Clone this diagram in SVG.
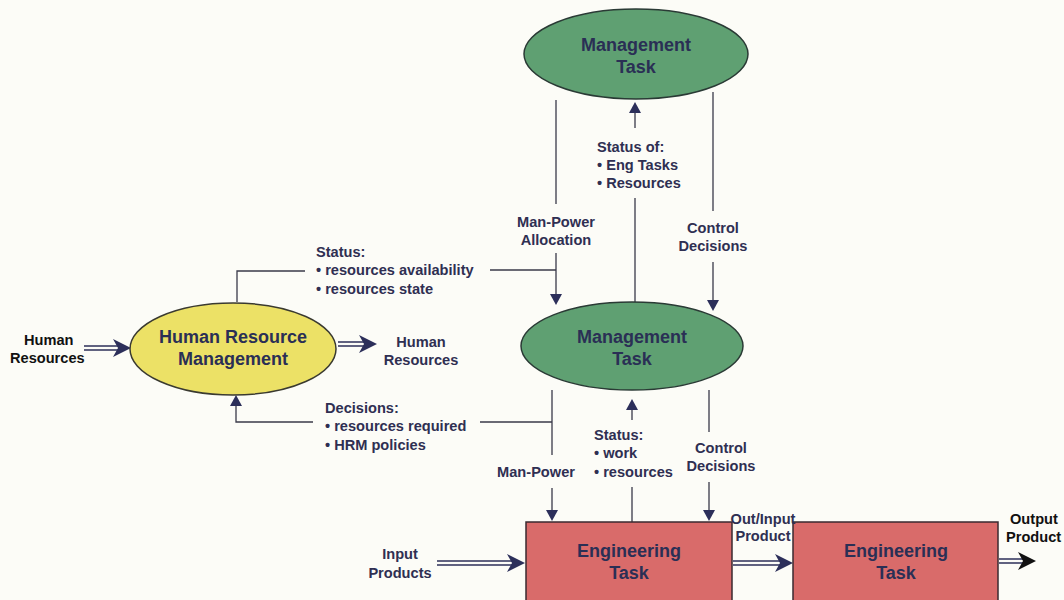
<svg xmlns="http://www.w3.org/2000/svg" width="1064" height="600" viewBox="0 0 1064 600">
  <style>
    .lbl { font-family: "Liberation Sans", Arial, sans-serif; font-weight: bold; font-size: 14.6px; fill: #2f2f52; }
    .blk { fill: #111; }
    .node-t { font-family: "Liberation Sans", Arial, sans-serif; font-weight: bold; font-size: 18px; fill: #2a2f55; text-anchor: middle; }
    .wire { stroke: #3a3a4a; stroke-width: 1.3; fill: none; }
    .dbl { stroke: #2c2f5a; stroke-width: 1.5; fill: none; }
    .green { fill: #5fa072; stroke: #2a3a35; stroke-width: 1.5; }
    .yellow { fill: #ece166; stroke: #3a3a30; stroke-width: 1.5; }
    .red { fill: #d96b6a; stroke: #3a2a30; stroke-width: 1.5; }
    .mid { text-anchor: middle; }
  </style>
  <rect width="1064" height="600" fill="#fcfcf7"/>

  <!-- connectors -->
  <g id="connectors">
    <!-- upper band: between top and middle management tasks -->
    <path class="wire" d="M556,100 V204 M556,253 V302"/>
    <path d="M550,294 L562,294 L556,305 Z" fill="#2c2f5a"/>
    <path class="wire" d="M635,198 V302 M635,112 V128"/>
    <path d="M629,113 L641,113 L635,102 Z" fill="#2c2f5a"/>
    <path class="wire" d="M713,92 V211 M713,262 V302"/>
    <path d="M707,300 L719,300 L713,311 Z" fill="#2c2f5a"/>
    <!-- HRM status feed -->
    <path class="wire" d="M237,302 V271 H305 M490,270 H556"/>
    <!-- lower band: middle task to engineering task -->
    <path class="wire" d="M552,390 V455 M552,488 V512"/>
    <path d="M546,510 L558,510 L552,521 Z" fill="#2c2f5a"/>
    <path class="wire" d="M632,487 V522 M632,409 V420"/>
    <path d="M626,410 L638,410 L632,399 Z" fill="#2c2f5a"/>
    <path class="wire" d="M709,390 V432 M709,482 V512"/>
    <path d="M703,510 L715,510 L709,521 Z" fill="#2c2f5a"/>
    <!-- HRM decisions feed -->
    <path class="wire" d="M480,422 H552 M313,422 H236 V404"/>
    <path d="M230,406 L242,406 L236,395 Z" fill="#2c2f5a"/>
    <!-- double-line flow arrows -->
    <path class="dbl" d="M84,346 H118 M84,350 H118"/>
    <path d="M113,339 L131,348 L113,357 L118,348 Z" fill="#2c2f5a"/>
    <path class="dbl" d="M338,342 H364 M338,346 H364"/>
    <path d="M359,335 L377,344 L359,353 L364,344 Z" fill="#2c2f5a"/>
    <path class="dbl" d="M437,561 H512 M437,565 H512"/>
    <path d="M507,554 L525,563 L507,572 L512,563 Z" fill="#2c2f5a"/>
    <path class="dbl" d="M733,561 H780 M733,565 H780"/>
    <path d="M775,554 L793,563 L775,572 L780,563 Z" fill="#2c2f5a"/>
    <path class="dbl" d="M999,559 H1023 M999,563 H1023" stroke="#111"/>
    <path d="M1018,552 L1036,561 L1018,570 L1023,561 Z" fill="#111"/>
  </g>

  <!-- nodes -->
  <g id="mgmt-top">
    <ellipse class="green" cx="636" cy="54" rx="112" ry="45"/>
    <text class="node-t" x="636" y="51">Management</text>
    <text class="node-t" x="636" y="73">Task</text>
  </g>
  <g id="mgmt-mid">
    <ellipse class="green" cx="632" cy="346" rx="111" ry="44"/>
    <text class="node-t" x="632" y="343">Management</text>
    <text class="node-t" x="632" y="365">Task</text>
  </g>
  <g id="hrm">
    <ellipse class="yellow" cx="233" cy="349" rx="103" ry="46"/>
    <text class="node-t" x="233" y="343">Human Resource</text>
    <text class="node-t" x="233" y="365">Management</text>
  </g>
  <g id="eng-1">
    <rect class="red" x="526" y="522" width="206" height="90"/>
    <text class="node-t" x="629" y="557">Engineering</text>
    <text class="node-t" x="629" y="579">Task</text>
  </g>
  <g id="eng-2">
    <rect class="red" x="793" y="522" width="205" height="90"/>
    <text class="node-t" x="896" y="557">Engineering</text>
    <text class="node-t" x="896" y="579">Task</text>
  </g>

  <!-- labels -->
  <g id="labels">
    <text class="lbl" x="597" y="152">Status of:</text>
    <text class="lbl" x="597" y="170">• Eng Tasks</text>
    <text class="lbl" x="597" y="188">• Resources</text>
    <text class="lbl mid" x="556" y="227">Man-Power</text>
    <text class="lbl mid" x="556" y="245">Allocation</text>
    <text class="lbl mid" x="713" y="233">Control</text>
    <text class="lbl mid" x="713" y="251">Decisions</text>
    <text class="lbl" x="316" y="257">Status:</text>
    <text class="lbl" x="316" y="275">• resources availability</text>
    <text class="lbl" x="316" y="294">• resources state</text>
    <text class="lbl blk" x="24" y="345">Human</text>
    <text class="lbl blk" x="10" y="363">Resources</text>
    <text class="lbl mid" x="421" y="347">Human</text>
    <text class="lbl mid" x="421" y="365">Resources</text>
    <text class="lbl" x="325" y="413">Decisions:</text>
    <text class="lbl" x="325" y="431">• resources required</text>
    <text class="lbl" x="325" y="450">• HRM policies</text>
    <text class="lbl mid" x="536" y="477">Man-Power</text>
    <text class="lbl" x="594" y="440">Status:</text>
    <text class="lbl" x="594" y="458">• work</text>
    <text class="lbl" x="594" y="477">• resources</text>
    <text class="lbl mid" x="721" y="453">Control</text>
    <text class="lbl mid" x="721" y="471">Decisions</text>
    <text class="lbl mid" x="400" y="559">Input</text>
    <text class="lbl mid" x="400" y="578">Products</text>
    <text class="lbl mid" x="763" y="524">Out/Input</text>
    <text class="lbl mid" x="763" y="541">Product</text>
    <text class="lbl blk" x="1010" y="524">Output</text>
    <text class="lbl blk" x="1006" y="542">Product</text>
  </g>
</svg>
